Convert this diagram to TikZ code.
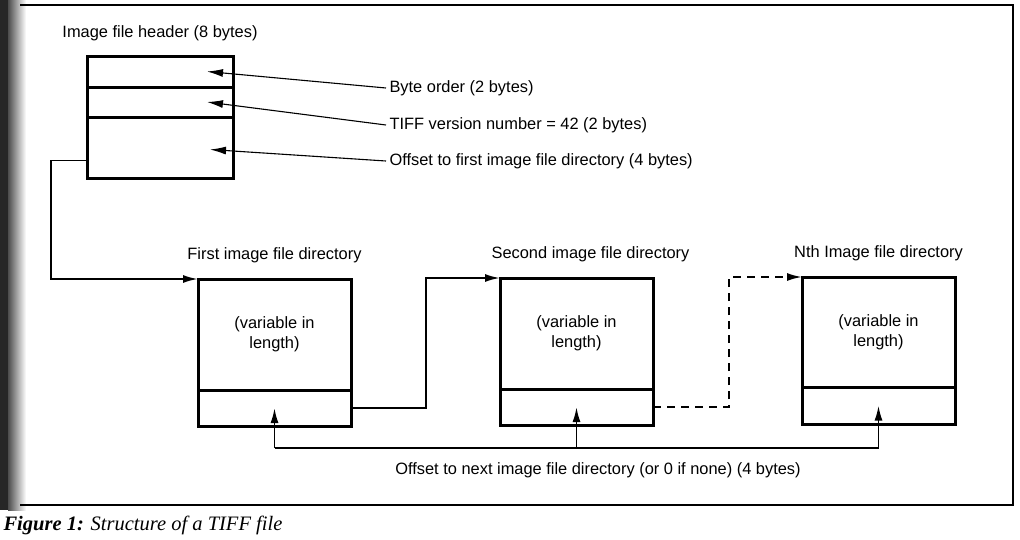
\documentclass[tikz,border=0pt]{standalone}
\usepackage{fontspec}
\setmainfont{Liberation Sans}
\newfontfamily\capfont{Liberation Serif}
\usetikzlibrary{arrows.meta}
\usetikzlibrary{positioning}

\tikzset{
	textfont/.style={font=\fontsize{16.4}{20}\selectfont},
	field/.style={draw,line width=3pt,minimum width=146pt,inner sep=0pt,outer sep=0pt},
	dirbox/.style={draw,line width=3pt,minimum width=153pt,minimum height=111pt,inner sep=0pt,outer sep=0pt,align=center,textfont},
	slotbox/.style={draw,line width=3pt,minimum width=153pt,minimum height=36pt,inner sep=0pt,outer sep=0pt},
	leader/.style={line width=1.1pt,-{Latex[length=16pt,width=8pt]}},
	link/.style={line width=1.9pt,-{Latex[length=15pt,width=8pt]}},
	busline/.style={line width=1.9pt}
}

\begin{document}
\begin{tikzpicture}[x=1pt,y=-1pt]
		\useasboundingbox (0,0) rectangle (1020,539);
		
		% scanned page edge and frame
		\fill[black!85] (0,0) rectangle (8,510);
		\shade[left color=black!70,right color=white] (8,0) rectangle (26,510);
		\draw[line width=1.2pt] (20,5) -- (1013,5) -- (1013,505) -- (20,505);
		
		% image file header
		\node[field,minimum height=31pt,anchor=north west] (byteorder) at (87,56) {};
		\node[field,minimum height=30pt,below=0pt of byteorder] (version) {};
		\node[field,minimum height=61pt,below=0pt of version] (offset) {};
		\node[textfont,above=12pt of byteorder] (headerlbl) {Image file header (8 bytes)};
		
		\node[textfont,anchor=west] (byteorderlbl) at (386,88) {Byte order (2 bytes)};
		\node[textfont,anchor=west] (versionlbl) at (386,125) {TIFF version number = 42 (2 bytes)};
		\node[textfont,anchor=west] (offsetlbl) at (386,161) {Offset to first image file directory (4 bytes)};
		
		\draw[leader] (byteorderlbl.west) -- ([xshift=-26pt]byteorder.east);
		\draw[leader] (versionlbl.west) -- ([xshift=-26pt]version.east);
		\draw[leader] (offsetlbl.west) -- ([xshift=-23pt,yshift=-2pt]offset.east);
		
		% image file directories
		\node[dirbox,anchor=north west] (ifd1) at (198,279) {(variable in\\length)};
		\node[slotbox,below=0pt of ifd1] (next1) {};
		\node[textfont,above=13pt of ifd1] (ifd1lbl) {First image file directory};
		
		\node[dirbox,anchor=north west] (ifd2) at (500,278) {(variable in\\length)};
		\node[slotbox,below=0pt of ifd2] (next2) {};
		\node[textfont,above=13pt of ifd2,xshift=14pt] (ifd2lbl) {Second image file directory};
		
		\node[dirbox,anchor=north west,minimum height=110pt] (ifdn) at (802,277) {(variable in\\length)};
		\node[slotbox,below=0pt of ifdn,minimum height=37pt] (nextn) {};
		\node[textfont,above=13pt of ifdn] (ifdnlbl) {Nth Image file directory};
		
		% chain of offsets
		\draw[link] ([yshift=-13pt]offset.west) -- ++(-36,0) |- (ifd1.north west);
		\draw[link] (next1.east) -- ++(75,0) |- (ifd2.north west);
		\draw[link,dash pattern=on 8pt off 6pt] (next2.east) -- ++(76,0) |- (ifdn.north west);
		
		% offset to next directory
		\coordinate (bus1) at (next1.center |- 0,448);
		\coordinate (bus2) at (next2.center |- 0,448);
		\coordinate (busn) at (nextn.center |- 0,448);
		\draw[busline] (bus1) -- (busn);
		\foreach \n in {1,2,n}
			\draw[link] (bus\n) -- (next\n.center);
		\node[textfont] (nextlbl) at (598,470) {Offset to next image file directory (or 0 if none) (4 bytes)};
		
		% caption
		\node[anchor=west,font=\capfont\fontsize{20.5}{24}\selectfont] (caption) at (0,525) {\textbf{\textit{Figure 1:}} \textit{Structure of a TIFF file}};
	\end{tikzpicture}
\end{document}
